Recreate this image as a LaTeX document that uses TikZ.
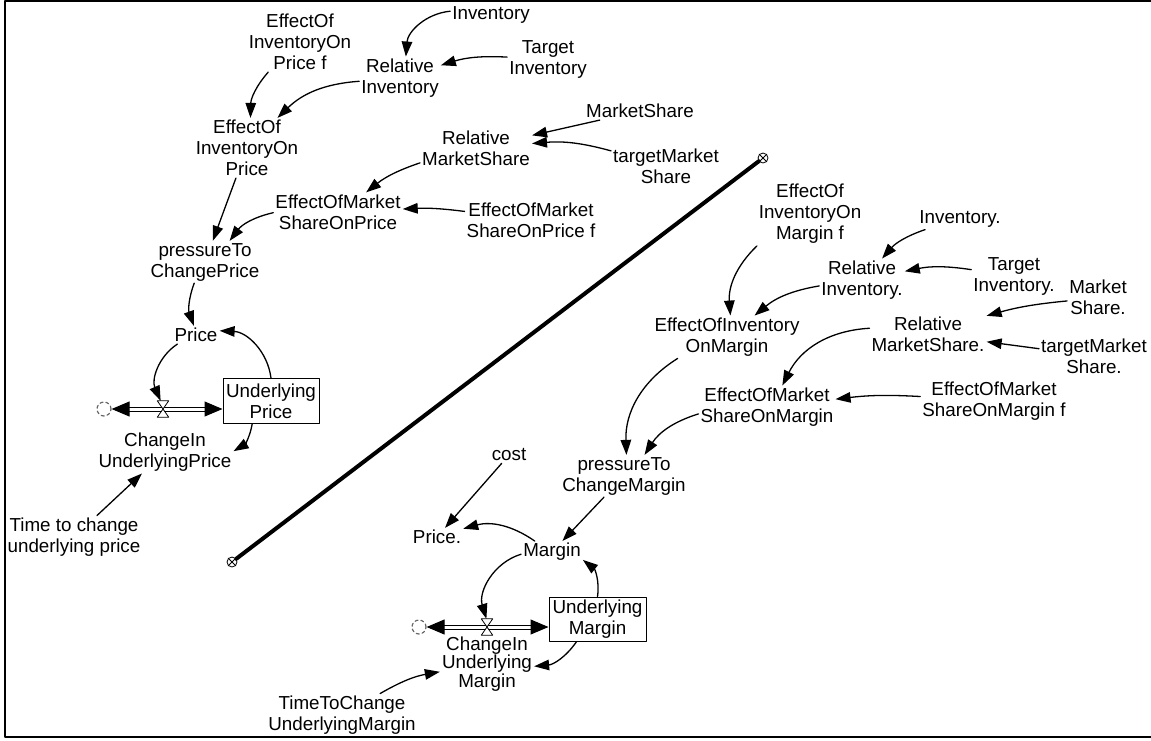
\documentclass[tikz,border=0pt]{standalone}
\usepackage{fontspec}
\setmainfont{Liberation Sans}
\usetikzlibrary{arrows.meta}

\begin{document}
\begin{tikzpicture}[
	x=1pt,
	y=1pt,
	line cap=round,
	line join=round,
	every node/.style={font=\fontsize{18.8}{21}\selectfont},
	var/.style={align=center,inner sep=2pt},
	stock/.style={draw,line width=1pt,align=center,minimum width=96pt,minimum height=45pt,inner sep=2pt},
	link/.style={line width=1.3pt,-{Triangle[length=15pt,width=10.5pt]}},
	pipe/.style={double,double distance=3pt,line width=1pt,
		{Triangle[length=18pt,width=15pt]}-{Triangle[length=18pt,width=15pt]}},
	valve/.style={minimum width=11pt,minimum height=16pt,inner sep=0pt},
	sink/.style={circle,draw=black!60,dashed,line width=1.2pt,minimum size=14pt,inner sep=0pt},
	cutend/.style={circle,draw,line width=0.8pt,minimum size=10pt,inner sep=0pt}
	]
	\useasboundingbox (0,0) rectangle (1151,-740);
	\draw[line width=2pt] (1151,-1) -- (5,-1) -- (5,-737) -- (1151,-737);
	
	% price sector
	\node[var] (EIPf) at (300,-42) {EffectOf\\InventoryOn\\Price f};
	\node[var] (Inv) at (491,-15) {Inventory};
	\node[var] (TInv) at (548,-59) {Target\\Inventory};
	\node[var] (RInv) at (400,-78) {Relative\\Inventory};
	\node[var] (EIP) at (247,-148) {EffectOf\\InventoryOn\\Price};
	\node[var] (RMS) at (476,-148) {Relative\\MarketShare};
	\node[var] (MS) at (640,-111) {MarketShare};
	\node[var] (TMS) at (666,-166) {targetMarket\\Share};
	\node[var] (EMSP) at (338,-212) {EffectOfMarket\\ShareOnPrice};
	\node[var] (EMSPf) at (531,-220) {EffectOfMarket\\ShareOnPrice f};
	\node[var] (PTCP) at (205,-262) {pressureTo\\ChangePrice};
	\node[var] (Price) at (196,-335) {Price};
	\node[stock] (UPrice) at (271,-401) {Underlying\\Price};
	\node[sink] (cP) at (104,-409) {};
	\node[valve] (vP) at (163,-409) {};
	\node[var] (CIUP) at (165,-452) {ChangeIn\\UnderlyingPrice};
	\node[var] (TTC) at (74,-537) {Time to change\\underlying price};
	
	\draw[pipe] (cP) -- (cP -| UPrice.west);
	\draw[fill=white,line width=0.8pt]
	(vP.north west) -- (vP.north east) -- (vP.south west) -- (vP.south east) -- cycle;
	
	\draw[link] (EIPf) to[bend right=20] (EIP);
	\draw[link] (RInv) to[bend right=20] (EIP);
	\draw[link] (Inv) to[bend right=40] (RInv);
	\draw[link] (TInv) to[bend right=10] (RInv);
	\draw[link] (MS) -- (RMS);
	\draw[link] (TMS) to[bend right=10] (RMS);
	\draw[link] (RMS) to[bend right=10] (EMSP);
	\draw[link] (EMSPf) to[bend right=5] (EMSP);
	\draw[link] (EIP) -- (PTCP);
	\draw[link] (EMSP) to[bend right=20] (PTCP);
	\draw[link] (PTCP) to[bend right=20] (Price);
	\draw[link] (Price) to[bend right=40] (vP);
	\draw[link] (UPrice.north) to[bend right=40] (Price);
	\draw[link] (UPrice) to[bend left=25] (CIUP);
	\draw[link] (TTC) -- (CIUP);
	
	% divider
	\node[cutend] (endA) at (232,-562) {};
	\node[cutend] (endB) at (763,-158) {};
	\foreach \n in {endA,endB}
	\draw[line width=0.8pt] (\n.45) -- (\n.225) (\n.135) -- (\n.315);
	\draw[line width=4pt] (endA) -- (endB);
	
	% margin sector
	\node[var] (EIMf) at (810,-214) {EffectOf\\InventoryOn\\Margin f};
	\node[var] (Invd) at (960,-219) {Inventory.};
	\node[var] (RInvd) at (862,-280) {Relative\\Inventory.};
	\node[var] (TInvd) at (1014,-276) {Target\\Inventory.};
	\node[var] (MSd) at (1098,-297) {Market\\Share.};
	\node[var] (RMSd) at (928,-334) {Relative\\MarketShare.};
	\node[var] (TMSd) at (1094,-356) {targetMarket\\Share.};
	\node[var] (EIM) at (727,-337) {EffectOfInventory\\OnMargin};
	\node[var] (EMSM) at (767,-407) {EffectOfMarket\\ShareOnMargin};
	\node[var] (EMSMf) at (994,-401) {EffectOfMarket\\ShareOnMargin f};
	\node[var] (PTCM) at (624,-476) {pressureTo\\ChangeMargin};
	\node[var] (cost) at (509,-455) {cost};
	\node[var] (Priced) at (437,-537) {Price.};
	\node[var] (Margin) at (552,-552) {Margin};
	\node[stock,minimum width=97pt,minimum height=44pt] (UMargin) at (597.5,-619) {Underlying\\Margin};
	\node[sink] (cM) at (419,-627) {};
	\node[valve] (vM) at (487,-627) {};
	\node[var,font=\fontsize{18.8}{17}\selectfont] (CIUM) at (487,-664) {ChangeIn\\Underlying\\Margin};
	\node[var] (TTCM) at (342,-715) {TimeToChange\\UnderlyingMargin};
	
	\draw[pipe] (cM) -- (cM -| UMargin.west);
	\draw[fill=white,line width=0.8pt]
	(vM.north west) -- (vM.north east) -- (vM.south west) -- (vM.south east) -- cycle;
	
	\draw[link] (EIMf) to[bend right=25] (EIM);
	\draw[link] (RInvd) to[bend right=15] (EIM);
	\draw[link] (Invd) to[bend right=15] (RInvd);
	\draw[link] (TInvd) to[bend right=10] (RInvd);
	\draw[link] (MSd) to[bend right=5] (RMSd);
	\draw[link] (TMSd) -- (RMSd);
	\draw[link] (RMSd) to[bend right=30] (EMSM);
	\draw[link] (EMSMf) to[bend right=5] (EMSM);
	\draw[link] (EIM) to[bend right=30] (PTCM);
	\draw[link] (EMSM) to[bend right=20] (PTCM);
	\draw[link] (PTCM) -- (Margin);
	\draw[link] (cost) -- (Priced);
	\draw[link] (Margin) to[bend right=25] (Priced);
	\draw[link] (Margin) to[bend right=45] (vM);
	\draw[link] (UMargin.north) to[bend right=30] (Margin);
	\draw[link] (UMargin) to[bend left=25] (CIUM);
	\draw[link] (TTCM) to[bend left=10] (CIUM);
\end{tikzpicture}
\end{document}
